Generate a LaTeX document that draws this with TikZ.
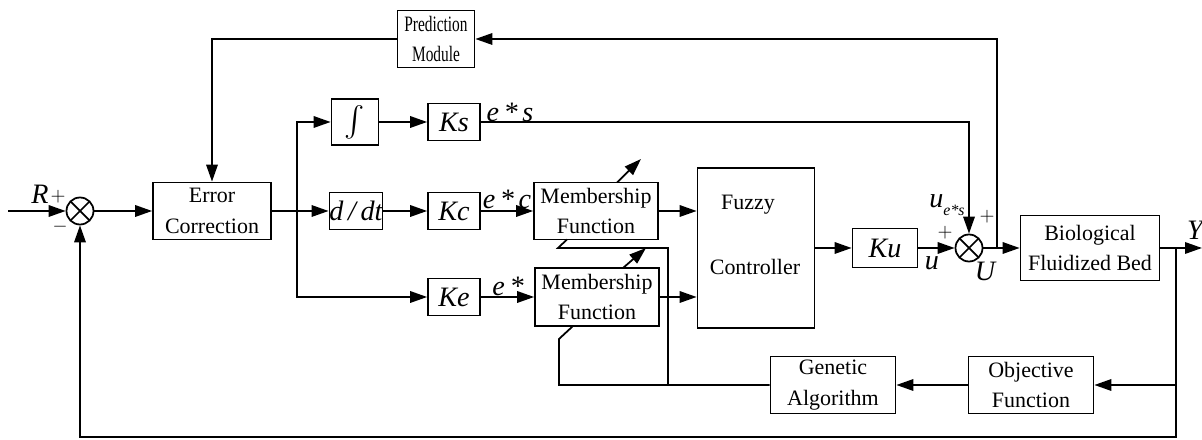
\documentclass[tikz,border=0pt]{standalone}
\usepackage{amsmath}
\usepackage{graphicx}
\usepackage{fontspec}
\setmainfont{Liberation Serif}
\usetikzlibrary{positioning,arrows.meta}

\newcommand{\narrow}[1]{\scalebox{0.7}[1]{#1}}

\tikzset{
	blk/.style={draw, line width=1pt, align=center, inner sep=0pt, font=\fontsize{12.5}{17.5}\selectfont},
	txt/.style={inner sep=0pt, font=\fontsize{12.5}{17.5}\selectfont},
	gain/.style={draw, line width=1pt, inner sep=0pt, minimum width=10.4mm, minimum height=7.4mm, font=\fontsize{16}{18}\selectfont\itshape},
	sumj/.style={draw, line width=1pt, circle, minimum size=5.4mm, inner sep=0pt,
		path picture={\draw[line width=1pt] (path picture bounding box.north west) -- (path picture bounding box.south east)
			(path picture bounding box.north east) -- (path picture bounding box.south west);}},
	sig/.style={font=\fontsize{16}{18}\selectfont\itshape, inner sep=1pt},
	pm/.style={font=\fontsize{11}{11}\selectfont, inner sep=0pt},
	wire/.style={line width=1pt},
	flow/.style={wire, -{Triangle[length=3.4mm,width=2.3mm]}},
}

\begin{document}
\begin{tikzpicture}[x=0.2mm,y=-0.2mm]
				\useasboundingbox (0,0) rectangle (1202,440);
				% blocks
				\node[sumj] (sum1) at (80,211) {};
				\node[blk, minimum width=23.6mm, minimum height=11.4mm] (err) at (212,211) {Error\\Correction};
				\node[blk, minimum width=15.4mm, minimum height=11.4mm, font=\fontsize{12.5}{17.5}\selectfont] (pred) at (436,39) {\narrow{Prediction}\\\narrow{Module}};
				\node[gain, minimum width=9.4mm, minimum height=9.2mm] (int) at (355,122) {$\int$};
				\node[gain] (ks) at (454,122) {Ks};
				\node[gain] (ddt) at (356,211) {d\,/\,dt};
				\node[gain] (kc) at (454,211) {Kc};
				\node[gain] (ke) at (454,297) {Ke};
				\node[blk, minimum width=24.8mm, minimum height=11.4mm] (mf1) at (596,211) {Membership\\Function};
				\node[blk, minimum width=24.8mm, minimum height=11.6mm] (mf2) at (597,297) {Membership\\Function};
				\node[blk, minimum width=23.4mm, minimum height=32mm] (fuzzy) at (756,248) {};
				\node[txt] (fzt) at (748,205) {Fuzzy};
				\node[txt] (fzb) at (755,267) {Controller};
				\node[gain, minimum width=13mm, minimum height=7.8mm] (ku) at (885,248) {Ku};
				\node[sumj] (sum2) at (969,248) {};
				\node[blk, minimum width=27.8mm, minimum height=13mm] (bed) at (1090,248) {Biological\\Fluidized Bed};
				\node[blk, minimum width=25mm, minimum height=11.4mm] (obj) at (1031,385) {Objective\\Function};
				\node[blk, minimum width=25mm, minimum height=11.4mm] (ga) at (833,385) {Genetic\\Algorithm};
				% free ends and bends
				\coordinate []  (rin) at (8,211) ;
				\coordinate []  (br) at (297,211) ;
				\coordinate []  (tapU) at (997,248) ;
				\coordinate []  (tapY) at (1176,248) ;
				\coordinate []  (yout) at (1202,248) ;
				\coordinate []  (fbR) at (1176,437) ;
				\coordinate []  (fbL) at (80,437) ;
				\coordinate []  (gaj) at (668,385) ;
				\coordinate []  (gaL) at (559,385) ;
				\coordinate []  (mf1k) at (558,248) ;
				\coordinate []  (mf1b) at (567,239.5) ;
				\coordinate []  (mf2k) at (559,339) ;
				\coordinate []  (mf2b) at (573,326) ;
				\coordinate []  (mf1t) at (617,182.5) ;
				\coordinate []  (tip1) at (641,159) ;
				\coordinate []  (mf2t) at (623,268) ;
				\coordinate []  (tip2) at (646,248) ;
				% forward path
				\draw[flow] (rin) -- (sum1);
				\draw[flow] (sum1) -- (err);
				\draw[flow] (err) -- (ddt);
				\draw[flow] (br) |- (int);
				\draw[flow] (br) |- (ke);
				\draw[flow] (int) -- (ks);
				\draw[flow] (ks) -| (sum2);
				\draw[flow] (ddt) -- (kc);
				\draw[flow] (kc) -- (mf1);
				\draw[flow] (ke) -- (mf2);
				\draw[flow] (mf1.east) -- (mf1.east -| fuzzy.west);
				\draw[flow] (mf2.east) -- (mf2.east -| fuzzy.west);
				\draw[flow] (fuzzy) -- (ku);
				\draw[flow] (ku) -- (sum2);
				\draw[flow] (sum2) -- (bed);
				\draw[flow] (bed) -- (yout);
				% feedback paths
				\draw[flow] (tapU) |- (pred);
				\draw[flow] (pred) -| (err);
				\draw[flow] (tapY) |- (obj);
				\draw[flow] (obj) -- (ga);
				\draw[flow] (tapY) -- (fbR) -- (fbL) -- (sum1);
				\draw[wire] (ga) -- (gaL) -- (mf2k) -- (mf2b);
				\draw[wire] (gaj) |- (mf1k) -- (mf1b);
				\draw[flow] (mf1t) -- (tip1);
				\draw[flow] (mf2t) -- (tip2);
				% signal labels
				\node[sig] (lR) at (40,194) {R};
				\node[pm] (p1) at (58,197) {$+$};
				\node[pm] (m1) at (60,227) {$-$};
				\node[sig] (les) at (510,112) {e\,*\,s};
				\node[sig] (lec) at (507,199) {e\,*\,c};
				\node[sig] (le) at (508,286) {e\,*};
				\node[sig] (lues) at (947,205) {u\raisebox{-0.6ex}{\fontsize{9}{9}\selectfont e*s}};
				\node[pm] (p2) at (987,217) {$+$};
				\node[pm] (p3) at (945,233) {$+$};
				\node[sig] (lu) at (932,263) {u};
				\node[sig] (lU) at (985,271) {U};
				\node[sig] (lY) at (1195,230) {Y};
\end{tikzpicture}
\end{document}
